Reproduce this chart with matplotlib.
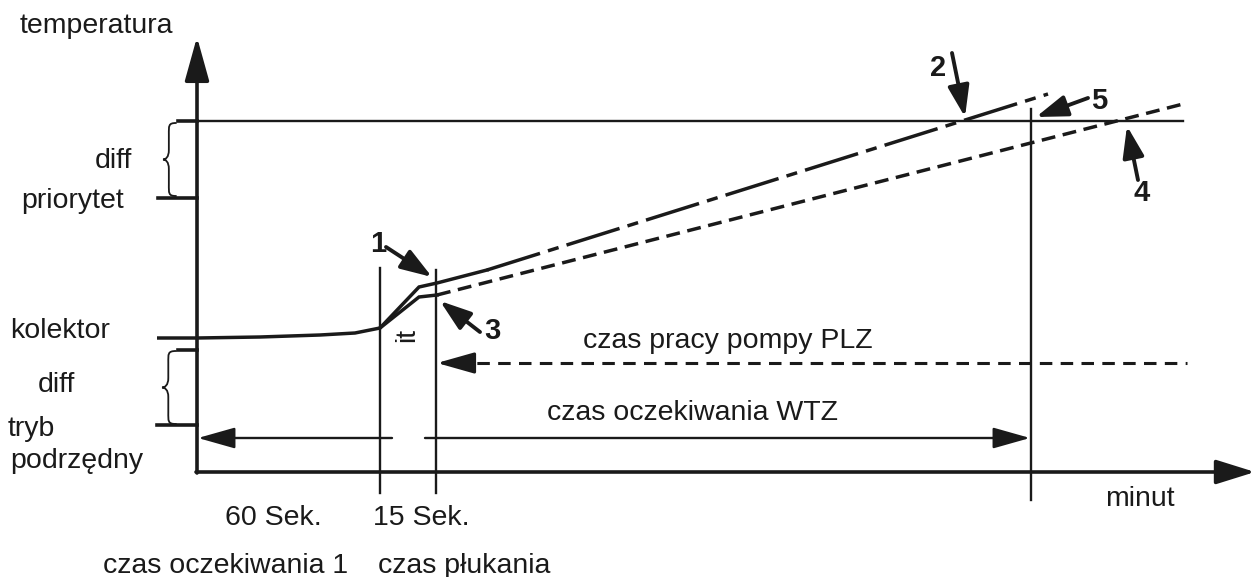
import numpy as np
import matplotlib.pyplot as plt
from matplotlib.path import Path
from matplotlib.patches import PathPatch

plt.rcParams['font.family'] = ['Liberation Sans', 'DejaVu Sans']
plt.rcParams['lines.scale_dashes'] = False

INK = '#1a1a1a'

# schematic coordinates (canvas units, y grows downwards)
y_axis_x = 197
x_axis_y = 472
t_wait1 = 380          # end of 60 s wait
t_flush = 436          # end of 15 s flush
t_wtz = 1031           # end of WTZ wait
level_prio_top = 121
level_prio = 198
level_coll = 338
level_sub_top = 350
level_sub = 425
wtz_arrow_y = 438
plz_line_y = 363

# collector temperature before / during flushing
coll_x = [157, 197, 260, 320, 355, 380]
coll_y = [338, 338, 337, 335, 333, 328]
upper_x = [380, 419, 437, 487]
upper_y = [328, 287, 283, 270]
lower_x = [380, 419, 437]
lower_y = [328, 297, 295]
# extrapolated rises after flushing
rise_upper_x = [487, 1048]
rise_upper_y = [270, 94]
rise_lower_x = [437, 1187]
rise_lower_y = [295, 103]

# numbered markers: label position, arrow tail, arrow tip
markers = {
    '1': ((378, 252), (386, 247), (432, 277)),
    '2': ((938, 76), (952, 53), (965, 117)),
    '3': ((492, 339), (480, 332), (440, 301)),
    '4': ((1142, 201), (1138, 180), (1127, 126)),
    '5': ((1099, 109), (1088, 98), (1036, 117)),
}

fig = plt.figure(figsize=(12.55, 5.77), dpi=100)
ax = fig.add_axes([0, 0, 1, 1])
ax.set_xlim(0, 1255)
ax.set_ylim(577, 0)
ax.axis('off')


def arrow(tail, tip, lw, hl, hw):
    ax.annotate('', xy=tip, xytext=tail,
                arrowprops=dict(arrowstyle='-|>,head_length=%g,head_width=%g' % (hl, hw),
                                lw=lw, color=INK, shrinkA=0, shrinkB=0,
                                mutation_scale=1))


def brace(x_tip, x_end, y0, y1, lw=1.3):
    w = x_end - x_tip
    h = y1 - y0
    xm = x_tip + 0.45 * w
    ym = (y0 + y1) / 2
    verts = [(x_end, y0),
             (x_end - 0.6 * w, y0), (xm, y0 + 0.04 * h), (xm, y0 + 0.16 * h),
             (xm, ym - 0.13 * h),
             (xm, ym - 0.03 * h), (x_tip + 0.2 * w, ym), (x_tip, ym),
             (x_tip + 0.2 * w, ym), (xm, ym + 0.03 * h), (xm, ym + 0.13 * h),
             (xm, y1 - 0.16 * h),
             (xm, y1 - 0.04 * h), (x_end - 0.6 * w, y1), (x_end, y1)]
    codes = [Path.MOVETO,
             Path.CURVE4, Path.CURVE4, Path.CURVE4,
             Path.LINETO,
             Path.CURVE4, Path.CURVE4, Path.CURVE4,
             Path.CURVE4, Path.CURVE4, Path.CURVE4,
             Path.LINETO,
             Path.CURVE4, Path.CURVE4, Path.CURVE4]
    ax.add_patch(PathPatch(Path(verts, codes), fill=False, lw=lw, color=INK,
                           capstyle='round'))


# axes with arrow heads
arrow((y_axis_x, x_axis_y + 1), (y_axis_x, 37), 2.6, 27, 7.5)
arrow((y_axis_x - 1, x_axis_y), (1255, x_axis_y), 2.6, 24, 7.5)

# priority level lines and ticks
ax.plot([y_axis_x, 1183], [level_prio_top] * 2, color=INK, lw=1.7)
ax.plot([178, y_axis_x], [level_prio_top] * 2, color=INK, lw=2.6)
ax.plot([158, y_axis_x], [level_prio] * 2, color=INK, lw=2.6)
ax.plot([178, y_axis_x], [level_sub_top] * 2, color=INK, lw=2.6)
ax.plot([157, y_axis_x], [level_sub] * 2, color=INK, lw=2.6)
brace(163, 176, level_prio_top + 2, level_prio - 2)
brace(162, 176, level_sub_top + 1, level_sub - 1)

# time markers
ax.plot([t_wait1] * 2, [268, 493], color=INK, lw=1.7)
ax.plot([t_flush] * 2, [270, 493], color=INK, lw=1.7)
ax.plot([t_wtz] * 2, [109, 500], color=INK, lw=1.7)

# collector curves
ax.plot(coll_x, coll_y, color=INK, lw=2.5, solid_capstyle='butt')
ax.plot(upper_x, upper_y, color=INK, lw=2.5, solid_joinstyle='miter')
ax.plot(lower_x, lower_y, color=INK, lw=2.5, solid_joinstyle='miter')
ax.plot(rise_upper_x, rise_upper_y, color=INK, lw=2.5,
        dashes=(40, 6, 8, 6), solid_capstyle='butt')
ax.plot(rise_lower_x, rise_lower_y, color=INK, lw=2.5,
        dashes=(10, 5.5), solid_capstyle='butt')

# pump run time (dashed) and WTZ wait time
ax.plot([t_flush + 20, 1187], [plz_line_y] * 2, color=INK, lw=2.2, dashes=(9, 6))
arrow((t_flush + 22, plz_line_y), (t_flush + 1, plz_line_y), 2.2, 23, 6.5)
arrow((392, wtz_arrow_y), (y_axis_x + 1, wtz_arrow_y), 1.7, 23, 6.5)
arrow((425, wtz_arrow_y), (t_wtz - 1, wtz_arrow_y), 1.7, 23, 6.5)

# numbered markers
for label, (pos, tail, tip) in markers.items():
    ax.text(pos[0], pos[1], label, fontsize=21, fontweight='bold', color=INK,
            ha='center', va='baseline')
    arrow(tail, tip, 2.8, 19, 6.5)

fs = 20.5
ax.text(20, 33, 'temperatura', fontsize=fs, color=INK, ha='left', va='baseline')
ax.text(132, 168, 'diff', fontsize=fs, color=INK, ha='right', va='baseline')
ax.text(124, 208, 'priorytet', fontsize=fs, color=INK, ha='right', va='baseline')
ax.text(110, 338, 'kolektor', fontsize=fs, color=INK, ha='right', va='baseline')
ax.text(75, 392, 'diff', fontsize=fs, color=INK, ha='right', va='baseline')
ax.text(8, 436, 'tryb', fontsize=fs, color=INK, ha='left', va='baseline')
ax.text(143, 468, 'podrzędny', fontsize=fs, color=INK, ha='right', va='baseline')
ax.text(407, 335, 'it', fontsize=fs, color=INK, ha='center', va='center', rotation=90)
ax.text(583, 348, 'czas pracy pompy PLZ', fontsize=fs, color=INK, ha='left', va='baseline')
ax.text(547, 420, 'czas oczekiwania WTZ', fontsize=fs, color=INK, ha='left', va='baseline')
ax.text(1175, 506, 'minut', fontsize=fs, color=INK, ha='right', va='baseline')
ax.text(225, 525, '60 Sek.', fontsize=fs, color=INK, ha='left', va='baseline')
ax.text(373, 525, '15 Sek.', fontsize=fs, color=INK, ha='left', va='baseline')
ax.text(348, 573, 'czas oczekiwania 1', fontsize=fs, color=INK, ha='right', va='baseline')
ax.text(378, 573, 'czas płukania', fontsize=fs, color=INK, ha='left', va='baseline')

fig.savefig('out.png', dpi=100)
